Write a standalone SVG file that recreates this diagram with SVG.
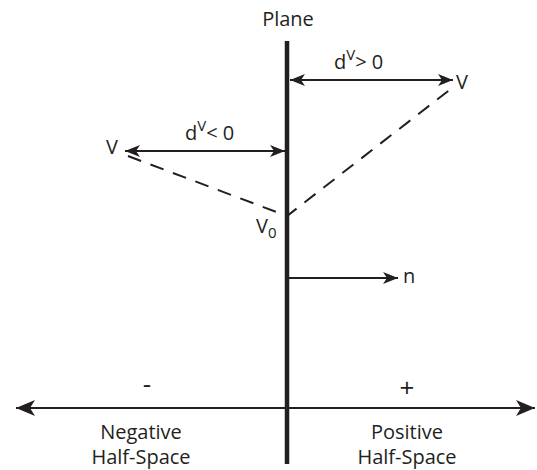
<svg xmlns="http://www.w3.org/2000/svg" width="537" height="470" viewBox="0 0 537 470">
<style>
text{font-family:"Open Sans","Liberation Sans",sans-serif;fill:#231f20;font-size:20px}
text.sign{font-size:26px}
.ln{stroke:#231f20;stroke-width:2;fill:none}
.dash{stroke:#231f20;stroke-width:2;fill:none;stroke-dasharray:14 10}
</style>
<defs>
<marker id="ah" markerUnits="userSpaceOnUse" viewBox="-16 -8 18 16" refX="0" refY="0" markerWidth="18" markerHeight="16" orient="auto-start-reverse">
<path d="M0,0 L-15,-6 L-11,0 L-15,6 Z" fill="#231f20"/>
</marker>
<marker id="ahL" markerUnits="userSpaceOnUse" viewBox="-20 -9 22 18" refX="0" refY="0" markerWidth="22" markerHeight="18" orient="auto-start-reverse">
<path d="M0,0 L-19,-8 L-14,0 L-19,8 Z" fill="#231f20"/>
</marker>
</defs>
<g id="connectors">
<line class="ln" x1="16" y1="408" x2="535" y2="408" marker-start="url(#ahL)" marker-end="url(#ahL)"/>
<line class="ln" x1="290" y1="80" x2="453" y2="80" marker-start="url(#ah)" marker-end="url(#ah)"/>
<line class="ln" x1="125" y1="151" x2="285" y2="151" marker-start="url(#ah)" marker-end="url(#ah)"/>
<line class="ln" x1="289" y1="278" x2="398" y2="278" marker-end="url(#ah)"/>
<path class="dash" d="M128,156 L287,216 L452,88"/>
</g>
<g id="plane">
<line x1="287" y1="41" x2="287" y2="464" stroke="#231f20" stroke-width="4.5"/>
<text x="288" y="26" text-anchor="middle">Plane</text>
</g>
<g id="dpos">
<text x="334" y="69">d<tspan dy="-9" font-size="15">V</tspan><tspan dy="9">&gt; 0</tspan></text>
</g>
<g id="dneg">
<text x="185" y="140">d<tspan dy="-9" font-size="15">V</tspan><tspan dy="9">&lt; 0</tspan></text>
</g>
<g id="vright"><text x="456" y="89">V</text></g>
<g id="vleft"><text x="106" y="154">V</text></g>
<g id="v0"><text x="256" y="233">V<tspan dy="5" font-size="15">0</tspan></text></g>
<g id="n"><text x="403" y="283">n</text></g>
<g id="neg">
<text class="sign" x="147" y="393" text-anchor="middle">-</text>
<text x="141" y="439" text-anchor="middle">Negative</text>
<text x="141" y="464" text-anchor="middle">Half-Space</text>
</g>
<g id="pos">
<text class="sign" x="407" y="397" text-anchor="middle">+</text>
<text x="407" y="439" text-anchor="middle">Positive</text>
<text x="407" y="464" text-anchor="middle">Half-Space</text>
</g>
</svg>
